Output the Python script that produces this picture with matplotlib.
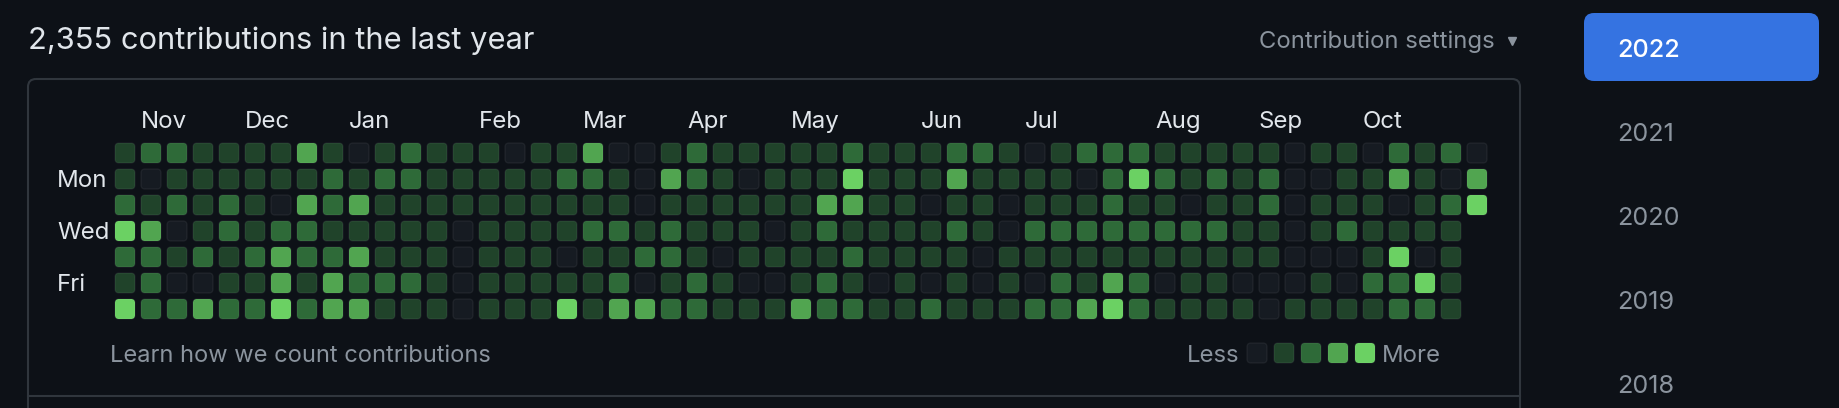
import matplotlib
matplotlib.use('Agg')
import matplotlib.pyplot as plt
from matplotlib.patches import FancyBboxPatch

plt.rcParams['font.family'] = ['Inter', 'DejaVu Sans']

# contribution levels (0-4), one string per weekday, one digit per week
sun = "1221111310121" + "1101130012111" + "11211122101222" + "1111101102120"
mon = "1011111121221" + "1111221032101" + "11411131111024" + "2121200113103"
tue = "2121210323111" + "1111111011111" + "13311011011121" + "1011201110124"
wed = "4301212211111" + "0111122121110" + "12111121022222" + "222110121111"
thu = "2212123223111" + "0111011221011" + "11211110111111" + "111110001401"
fri = "1200113132221" + "0111112012100" + "12101010102132" + "011000102241"
sat = "4223224233111" + "0111413322111" + "32211211122342" + "111101111221"
days = [sun, mon, tue, wed, thu, fri, sat]

months = ['Nov', 'Dec', 'Jan', 'Feb', 'Mar', 'Apr', 'May', 'Jun', 'Jul', 'Aug', 'Sep', 'Oct']
month_week = [1, 5, 9, 14, 18, 22, 26, 31, 35, 40, 44, 48]
day_labels = ['Mon', 'Wed', 'Fri']
day_rows = [1, 3, 5]
years = ['2022', '2021', '2020', '2019', '2018']
total = '2,355'

colors = ['#161b22', '#20432a', '#2e6a38', '#51a550', '#6bd163']
bg = '#0d1117'
txt = '#e1e6eb'
muted = '#8b949e'
border = '#30363d'

fig = plt.figure(figsize=(18.4, 4.08), dpi=100, facecolor=bg)
ax = fig.add_axes([0, 0, 1, 1])
ax.set_xlim(0, 1840)
ax.set_ylim(408, 0)
ax.axis('off')

# grid geometry (pixels)
x0, y0, step, cell = 115, 143, 26, 20

def square(x, y, lvl, size=cell):
    ax.add_patch(FancyBboxPatch((x, y), size, size, boxstyle='round,pad=0,rounding_size=4',
                                fc=colors[lvl], ec=(1, 1, 1, 0.06), lw=1))

for r, row in enumerate(days):
    for w, ch in enumerate(row):
        square(x0 + w * step, y0 + r * step, int(ch))

# title and settings
ax.text(28, 49, f'{total} contributions in the last year', color=txt, fontsize=22.2, va='baseline')
ax.text(1259, 48, 'Contribution settings', color=muted, fontsize=17.2, va='baseline')
ax.plot([1512], [41], marker='v', ms=6, color=muted, mec=muted)

# box round the calendar
ax.add_patch(FancyBboxPatch((28, 79), 1492, 400, boxstyle='round,pad=0,rounding_size=8',
                            fc='none', ec=border, lw=1.5))
ax.plot([28, 1520], [396, 396], color=border, lw=1.5)

for m, w in zip(months, month_week):
    ax.text(x0 + w * step, 128, m, color=txt, fontsize=17.3, va='baseline')
for d, r in zip(day_labels, day_rows):
    ax.text(57, y0 + r * step + cell / 2 + 8, d, color=txt, fontsize=17.3, va='baseline')

# footer
ax.text(110, 362, 'Learn how we count contributions', color=muted, fontsize=17.0, va='baseline')
ax.text(1239, 362, 'Less', color=muted, fontsize=17.2, va='baseline', ha='right')
for i in range(5):
    square(1247 + i * 27, 343, i)
ax.text(1382, 362, 'More', color=muted, fontsize=17.2, va='baseline')

# year selector
ax.add_patch(FancyBboxPatch((1584, 13), 235, 68, boxstyle='round,pad=0,rounding_size=10',
                            fc='#3573e1', ec='none'))
for i, y in enumerate(years):
    ax.text(1617, 57 + i * 84, y, color='white' if i == 0 else muted, fontsize=18.2,
            va='baseline', fontweight='medium' if i == 0 else 'normal')

fig.savefig('out.png', dpi=100, facecolor=bg)
